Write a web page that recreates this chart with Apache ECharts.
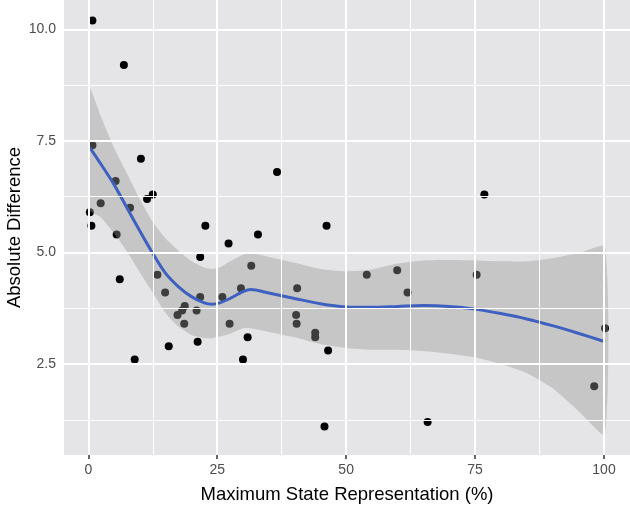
<!DOCTYPE html>
<html>
<head>
<meta charset="utf-8">
<script src="https://cdn.jsdelivr.net/npm/echarts@6/dist/echarts.min.js"></script>
<style>html,body{margin:0;padding:0;background:#fff}#c{width:630px;height:513px}</style>
</head>
<body>
<div id="c"></div>
<script>
// Scatter points: maximum state representation (%) and absolute difference
var pointX = [0.8, 6.9, 0.8, 10.2, 5.3, 12.5, 11.4, 2.4, 8.1, 0.3, 0.6, 22.7, 5.5, 27.2, 21.7, 6.1, 13.4, 14.9, 21.7, 26.0, 18.7, 18.2, 17.3, 21.0, 18.6, 27.4, 21.2, 15.6, 9.0, 30.0, 32.9, 31.6, 29.6, 40.5, 40.3, 40.4, 44.0, 44.0, 30.9, 46.5, 45.8, 54.0, 59.9, 61.9, 65.8, 36.6, 46.2, 76.8, 75.3, 100.2, 98.1];
var pointY = [10.2, 9.2, 7.4, 7.1, 6.6, 6.3, 6.2, 6.1, 6.0, 5.9, 5.6, 5.6, 5.4, 5.2, 4.9, 4.4, 4.5, 4.1, 4.0, 4.0, 3.8, 3.7, 3.6, 3.7, 3.4, 3.4, 3.0, 2.9, 2.6, 2.6, 5.4, 4.7, 4.2, 4.2, 3.6, 3.4, 3.2, 3.1, 3.1, 2.8, 1.1, 4.5, 4.6, 4.1, 1.2, 6.8, 5.6, 6.3, 4.5, 3.3, 2.0];

// Smoothed fit (loess) and its confidence band
var smoothX   = [0.3, 2.5, 5, 7.5, 10, 12.5, 15, 17.5, 20, 22.5, 24, 25.5, 27.5, 30, 31.5, 35, 40, 45, 50, 55, 60, 65, 70, 75, 80, 85, 90, 95, 100.2];
var smoothFit = [7.35, 6.97, 6.52, 6.0, 5.48, 4.98, 4.53, 4.23, 4.01, 3.87, 3.84, 3.87, 3.97, 4.12, 4.17, 4.09, 3.97, 3.85, 3.78, 3.77, 3.79, 3.81, 3.79, 3.73, 3.63, 3.51, 3.36, 3.19, 3.0];
var bandHigh  = [8.66, 8.03, 7.34, 6.77, 6.19, 5.68, 5.31, 5.04, 4.81, 4.66, 4.63, 4.66, 4.8, 4.95, 4.98, 4.9, 4.77, 4.63, 4.58, 4.62, 4.75, 4.82, 4.83, 4.82, 4.8, 4.8, 4.87, 4.98, 5.12];
var bandLow   = [5.95, 5.78, 5.43, 5.02, 4.55, 4.1, 3.64, 3.34, 3.15, 3.08, 3.08, 3.12, 3.18, 3.3, 3.3, 3.22, 3.1, 2.95, 2.86, 2.82, 2.82, 2.79, 2.73, 2.65, 2.5, 2.3, 1.96, 1.45, 0.92];

// Axis ticks
var xTicks = [0, 25, 50, 75, 100];
var yTicks = [2.5, 5, 7.5, 10];
var xMinor = [12.5, 37.5, 62.5, 87.5];
var yMinor = [1.25, 3.75, 6.25, 8.75];

var chart = echarts.init(document.getElementById('c'), null, {renderer: 'canvas'});

var gridLines = [];
xMinor.forEach(function (v) { gridLines.push({xAxis: v, lineStyle: {color: '#fff', width: 1, type: 'solid'}}); });
yMinor.forEach(function (v) { gridLines.push({yAxis: v, lineStyle: {color: '#fff', width: 1, type: 'solid'}}); });
xTicks.forEach(function (v) { gridLines.push({xAxis: v, lineStyle: {color: '#fff', width: 2, type: 'solid'}}); });
yTicks.forEach(function (v) { gridLines.push({yAxis: v, lineStyle: {color: '#fff', width: 2, type: 'solid'}}); });

var FONT = '"Liberation Sans", Arial, Helvetica, sans-serif';

chart.setOption({
  animation: false,
  backgroundColor: '#ffffff',
  grid: {left: 64, right: 0, top: 0, bottom: 58, show: true, backgroundColor: '#E5E5E7', borderWidth: 0,
         containLabel: false, outerBoundsMode: 'none'},
  xAxis: {
    type: 'value', min: -4.71, max: 105.04,
    name: 'Maximum State Representation (%)', nameLocation: 'middle', nameGap: 30, nameMoveOverlap: false,
    nameTextStyle: {fontFamily: FONT, fontSize: 18.5, color: '#000'},
    axisLine: {show: false},
    axisTick: {show: true, customValues: xTicks, length: 4, lineStyle: {color: '#333', width: 1.5}},
    axisLabel: {customValues: xTicks, margin: 8, fontFamily: FONT, fontSize: 14, color: '#4D4D4D'},
    splitLine: {show: false}
  },
  yAxis: {
    type: 'value', min: 0.461, max: 10.657,
    name: 'Absolute Difference', nameLocation: 'middle', nameGap: 40, nameRotate: 90, nameMoveOverlap: false,
    nameTextStyle: {fontFamily: FONT, fontSize: 18.5, color: '#000'},
    axisLine: {show: false},
    axisTick: {show: true, customValues: yTicks, length: 4, lineStyle: {color: '#333', width: 1.5}},
    axisLabel: {customValues: yTicks, margin: 8, fontFamily: FONT, fontSize: 14, color: '#4D4D4D',
      formatter: function (v) { return v.toFixed(1); }},
    splitLine: {show: false}
  },
  series: [
    {
      type: 'line', data: [], z: 1, silent: true,
      markLine: {silent: true, symbol: 'none', label: {show: false}, animation: false, data: gridLines}
    },
    {
      type: 'scatter', z: 2, symbol: 'circle', symbolSize: 8,
      itemStyle: {color: '#000', opacity: 1},
      data: pointX.map(function (x, i) { return [x, pointY[i]]; })
    },
    {
      type: 'custom', z: 3, silent: true,
      data: smoothX.map(function (x, i) { return [x, bandLow[i], bandHigh[i]]; }),
      encode: {x: 0, y: [1, 2]},
      renderItem: function (params, api) {
        if (params.dataIndex !== 0) return null;
        var pts = [];
        for (var i = 0; i < smoothX.length; i++) pts.push(api.coord([smoothX[i], bandHigh[i]]));
        for (var j = smoothX.length - 1; j >= 0; j--) pts.push(api.coord([smoothX[j], bandLow[j]]));
        return {type: 'polygon', shape: {points: pts, smooth: 0.2}, style: {fill: 'rgba(153,153,153,0.4)'}};
      }
    },
    {
      type: 'line', z: 4, smooth: 0.3, symbol: 'none',
      lineStyle: {color: '#3E60C1', width: 3},
      data: smoothX.map(function (x, i) { return [x, smoothFit[i]]; })
    }
  ]
});
</script>
</body>
</html>
